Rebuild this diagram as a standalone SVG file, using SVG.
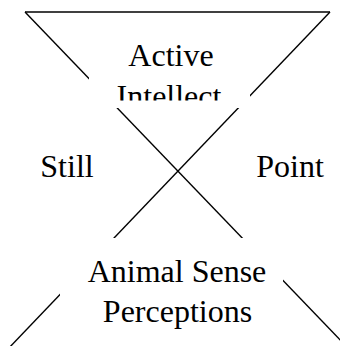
<svg xmlns="http://www.w3.org/2000/svg" width="340" height="346" viewBox="0 0 340 346">
  <style>
    .ln { stroke: #000; stroke-width: 1.4; fill: none; }
    .mask { fill: #fff; stroke: none; }
    .t { font-family: "Liberation Serif", "Times New Roman", serif; font-size: 32px; fill: #000; text-anchor: middle; }
  </style>
  <defs>
    <clipPath id="clipTop">
      <rect x="89" y="30" width="161" height="70.5"/>
    </clipPath>
  </defs>
  <rect width="340" height="346" fill="#fff"/>
  <g id="connectors">
    <line class="ln" x1="25" y1="12" x2="330" y2="12"/>
    <line class="ln" x1="25" y1="12" x2="345" y2="345"/>
    <line class="ln" x1="330" y1="12" x2="7" y2="350"/>
  </g>
  <g id="active-intellect">
    <rect class="mask" x="89" y="30" width="161" height="78"/>
    <g clip-path="url(#clipTop)">
      <text class="t" x="171" y="66">Active</text>
      <text class="t" x="169" y="107">Intellect</text>
    </g>
  </g>
  <g id="still">
    <text class="t" x="67" y="177">Still</text>
  </g>
  <g id="point">
    <text class="t" x="290" y="177">Point</text>
  </g>
  <g id="animal-sense-perceptions">
    <rect class="mask" x="60" y="238" width="223" height="72"/>
    <text class="t" x="177" y="282">Animal Sense</text>
    <text class="t" x="177.5" y="322">Perceptions</text>
  </g>
</svg>
